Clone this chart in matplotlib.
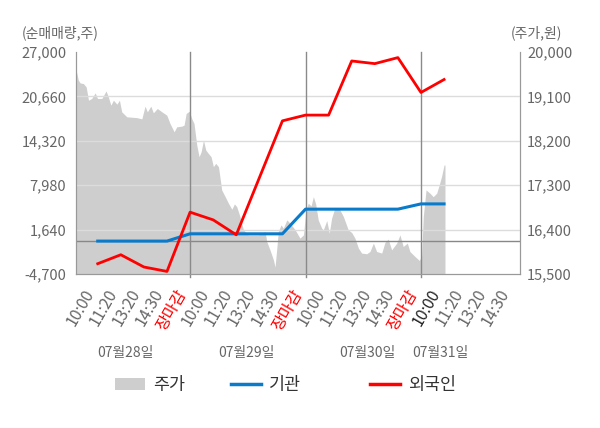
import numpy as np
import matplotlib
matplotlib.use('Agg')
import matplotlib.pyplot as plt
import matplotlib.transforms as mtransforms
from matplotlib.patches import Patch
from matplotlib.lines import Line2D

plt.rcParams['font.family'] = ['Noto Sans CJK KR', 'DejaVu Sans']

# x categories: 4 trading days, 장마감 = market close
tick_labels = ['10:00', '11:20', '13:20', '14:30', '장마감'] * 3 + ['10:00', '11:20', '13:20', '14:30']
dates = ['07월28일', '07월29일', '07월30일', '07월31일']
date_pos = [1.18, 6.42, 11.66, 14.82]

# net buying (shares), one point per tick up to day 4 10:00
inst = [0, 0, 0, 0, 1040, 1040, 1040, 1040, 1040, 4560, 4560, 4560, 4560, 4560, 5310, 5310]
foreign = [-3230, -1950, -3700, -4330, 4130, 3030, 900, 9040, 17170, 17990, 17990,
           25720, 25340, 26200, 21220, 23070]

# stock price (won)
price_x = [-0.94, -0.84, -0.76, -0.62, -0.50, -0.40, -0.26, -0.11, -0.01, 0.18, 0.36, 0.46,
           0.57, 0.68, 0.83, 0.94, 1.04, 1.26, 1.69, 1.91, 2.05, 2.15, 2.30, 2.41, 2.58,
           2.78, 2.99, 3.13, 3.31, 3.42, 3.64, 3.74, 3.83, 3.97, 4.07, 4.17, 4.29, 4.39,
           4.48, 4.58, 4.68, 4.79, 4.91, 5.01, 5.11, 5.23, 5.37, 5.52, 5.66, 5.81, 5.92,
           6.02, 6.16, 6.31, 6.52, 6.96, 7.25, 7.32, 7.46, 7.61, 7.68, 7.75, 7.82, 7.94,
           8.04, 8.19, 8.33, 8.55, 8.76, 8.91, 9.02, 9.12, 9.24, 9.34, 9.44, 9.55, 9.70,
           9.77, 9.92, 10.03, 10.13, 10.28, 10.49, 10.64, 10.85, 11.00, 11.14, 11.29,
           11.43, 11.65, 11.79, 11.94, 12.08, 12.30, 12.44, 12.58, 12.73, 12.95, 13.09,
           13.23, 13.41, 13.52, 13.74, 13.93, 14.03, 14.10, 14.22, 14.39, 14.53, 14.68,
           14.79, 14.89, 15.00, 15.04]
price = [19644, 19428, 19373, 19360, 19292, 19023, 19058, 19171, 19058, 19058, 19211, 19090,
         18922, 19023, 18942, 19023, 18787, 18686, 18670, 18645, 18902, 18787, 18902, 18767,
         18855, 18787, 18720, 18552, 18382, 18483, 18497, 18518, 18754, 18801, 18653, 18552,
         18113, 17877, 17978, 18215, 18012, 17945, 17877, 17675, 17743, 17675, 17204, 17068,
         16935, 16813, 16920, 16866, 16664, 16395, 16294, 16294, 16360, 16158, 15990, 15788,
         15640, 15990, 16360, 16496, 16429, 16597, 16530, 16395, 16227, 16294, 16800, 16935,
         16880, 17068, 16920, 16597, 16429, 16395, 16583, 16328, 16631, 16853, 16799, 16664,
         16395, 16341, 16227, 16025, 15924, 15910, 15956, 16126, 15956, 15924, 16140, 16207,
         15990, 16126, 16294, 16058, 16126, 15956, 15855, 15774, 15869, 16664, 17204, 17137,
         17068, 17137, 17305, 17473, 17709, 17709]

left_ticks = [-4700, 1640, 7980, 14320, 20660, 27000]
right_ticks = [15500, 16400, 17300, 18200, 19100, 20000]

fig = plt.figure(figsize=(6, 4.28), dpi=100)
ax = fig.add_axes([0.1267, 0.3598, 0.74, 0.5187])
ax2 = ax.twinx()
ax.set_zorder(2)
ax2.set_zorder(1)
ax.patch.set_visible(False)
ax2.set_facecolor('#f4f4f4')

ax2.fill_between(price_x, 15500, price, color='#cecece', lw=0)
ax2.set_ylim(15500, 20000)
ax2.set_yticks(right_ticks)
ax2.set_yticklabels([f'{v:,}' for v in right_ticks])

ax.set_ylim(-4700, 27000)
ax.set_xlim(-0.94, 18.29)
ax.set_yticks(left_ticks)
ax.set_yticklabels([f'{v:,}' for v in left_ticks])

for v in left_ticks[1:-1]:
    ax.axhline(v, color='#dcdcdc', lw=1, zorder=1)
ax.axhline(0, color='#888888', lw=1, zorder=1.5)
for i, lab in enumerate(tick_labels):
    if lab == '장마감':
        ax.axvline(i, ymin=-0.015, ymax=1, color='#8a8a8a', lw=1, clip_on=False, zorder=1.5)

x = np.arange(len(inst))
ax.plot(x, inst, color='#0a7bcb', lw=2.2, zorder=3)
ax.plot(x, foreign, color='#ff0000', lw=2.0, zorder=4)

ax.set_xticks(range(len(tick_labels)))
ax.set_xticklabels(tick_labels, rotation=60, ha='right', va='top')
offset = mtransforms.ScaledTranslation(5 / 100, 0, fig.dpi_scale_trans)
for i, t in enumerate(ax.get_xticklabels()):
    t.set_transform(t.get_transform() + offset)
    if tick_labels[i] == '장마감':
        t.set_color('#ff0000')
    elif i == 15:
        t.set_color('#222222')
    else:
        t.set_color('#666666')
ax.tick_params(axis='x', length=0, pad=9, labelsize=11.5)
ax.tick_params(axis='y', length=0, pad=7, labelsize=10.5, labelcolor='#666666')
ax2.tick_params(axis='y', length=0, pad=5, labelsize=10.5, labelcolor='#666666')

for a in (ax, ax2):
    a.spines['top'].set_visible(False)
    for s in ('left', 'right', 'bottom'):
        a.spines[s].set_color('#999999')

for d, p in zip(dates, date_pos):
    ax.text(p, -0.355, d, transform=ax.get_xaxis_transform(), ha='center', va='center',
            fontsize=10, color='#666666')

fig.text(22 / 600, 1 - 33 / 428, '(순매매량,주)', ha='left', va='center', fontsize=10, color='#666666')
fig.text(562 / 600, 1 - 33 / 428, '(주가,원)', ha='right', va='center', fontsize=10, color='#666666')

items = [
    (Patch(facecolor='#cecece', edgecolor='none'), '주가', 115),
    (Line2D([], [], color='#0a7bcb', lw=2.5), '기관', 231),
    (Line2D([], [], color='#ff0000', lw=2.5), '외국인', 370),
]
for h, lab, px in items:
    fig.legend([h], [lab], loc='center left', bbox_to_anchor=(px / 600, 1 - 385 / 428),
               frameon=False, fontsize=12.5, handlelength=1.75, handletextpad=0.45,
               borderpad=0, borderaxespad=0, labelcolor='#333333')

fig.savefig('out.png', dpi=100)
